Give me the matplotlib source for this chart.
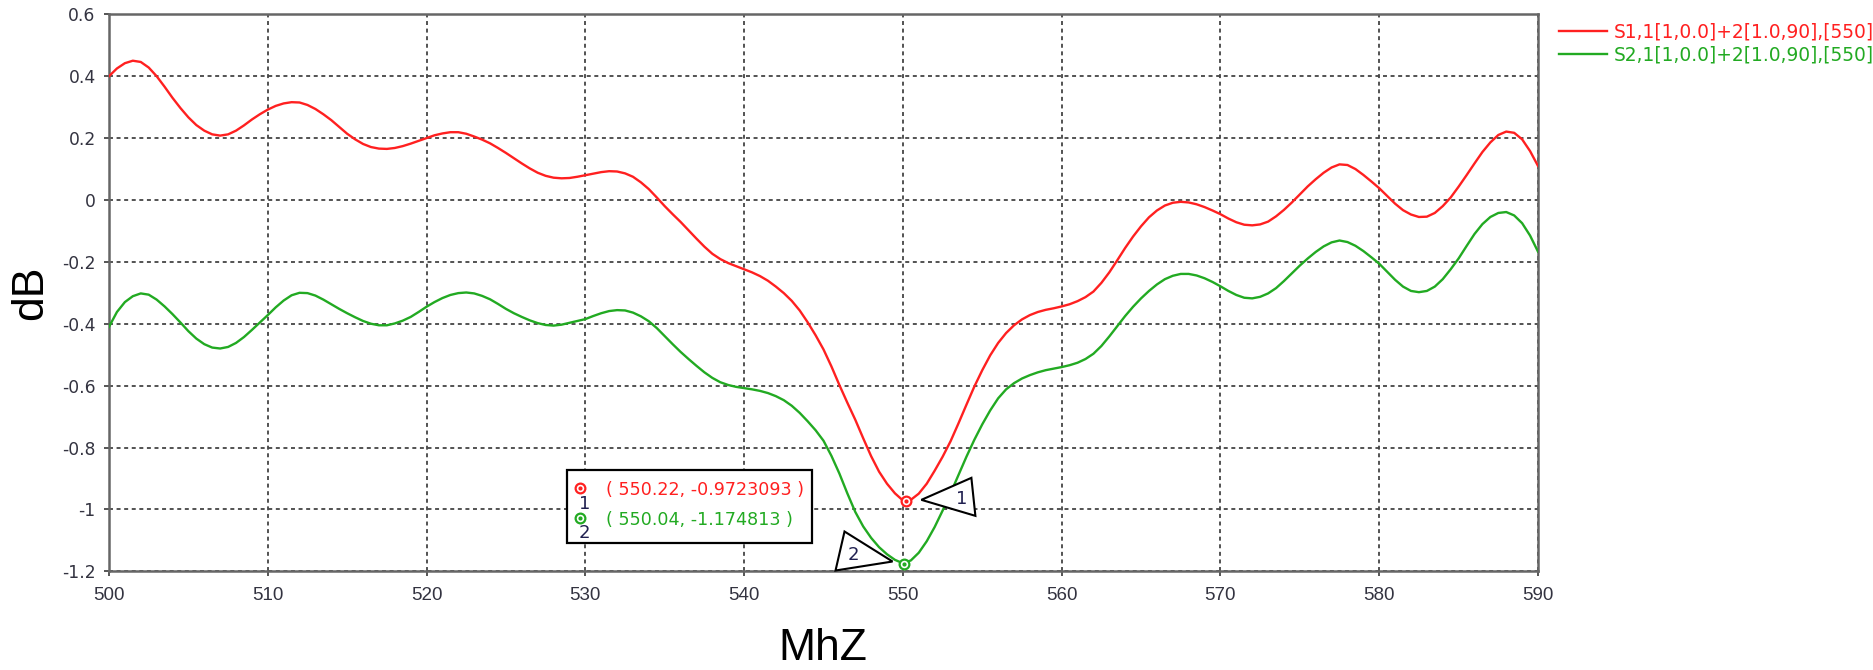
import numpy as np
import matplotlib
matplotlib.use("Agg")
import matplotlib.pyplot as plt
import matplotlib.transforms as mtransforms
from matplotlib.patches import Polygon, Rectangle

plt.rcParams['font.family'] = ['Liberation Sans', 'DejaVu Sans']
plt.rcParams['axes.unicode_minus'] = False

# frequency sweep, MHz (0.5 MHz step)
freq = np.arange(500, 590.5, 0.5)

# S1,1 response, dB
s11 = [0.400, 0.425, 0.442, 0.450, 0.446, 0.428, 0.400, 0.366, 0.330, 0.297,
       0.267, 0.242, 0.224, 0.212, 0.208, 0.212, 0.224, 0.241, 0.260, 0.277,
       0.292, 0.304, 0.312, 0.316, 0.315, 0.307, 0.294, 0.277, 0.258, 0.236,
       0.214, 0.196, 0.181, 0.171, 0.166, 0.165, 0.168, 0.174, 0.182, 0.191,
       0.200, 0.209, 0.215, 0.219, 0.219, 0.214, 0.205, 0.195, 0.183, 0.168,
       0.152, 0.135, 0.118, 0.102, 0.088, 0.078, 0.072, 0.070, 0.071, 0.075,
       0.080, 0.085, 0.090, 0.093, 0.092, 0.086, 0.075, 0.057, 0.035, 0.008,
       -0.020, -0.046, -0.071, -0.098, -0.125, -0.151, -0.174, -0.191, -0.204, -0.214,
       -0.224, -0.234, -0.246, -0.261, -0.280, -0.301, -0.326, -0.357, -0.395, -0.437,
       -0.483, -0.538, -0.598, -0.655, -0.710, -0.770, -0.828, -0.878, -0.917, -0.948,
       -0.971, -0.969, -0.949, -0.917, -0.875, -0.830, -0.780, -0.722, -0.662, -0.603,
       -0.550, -0.502, -0.462, -0.430, -0.405, -0.386, -0.372, -0.362, -0.355, -0.350,
       -0.344, -0.337, -0.327, -0.314, -0.296, -0.268, -0.234, -0.195, -0.155, -0.118,
       -0.085, -0.056, -0.034, -0.018, -0.009, -0.006, -0.008, -0.014, -0.023, -0.034,
       -0.046, -0.060, -0.072, -0.080, -0.082, -0.079, -0.070, -0.053, -0.032, -0.008,
       0.018, 0.044, 0.067, 0.088, 0.105, 0.115, 0.113, 0.100, 0.081, 0.060,
       0.038, 0.013, -0.012, -0.033, -0.047, -0.055, -0.054, -0.042, -0.020, 0.008,
       0.043, 0.080, 0.118, 0.155, 0.186, 0.210, 0.221, 0.217, 0.196, 0.158,
       0.110]

# S2,1 response, dB
s21 = [-0.410, -0.362, -0.330, -0.311, -0.302, -0.306, -0.322, -0.344, -0.369, -0.396,
       -0.424, -0.448, -0.466, -0.477, -0.480, -0.475, -0.462, -0.443, -0.420, -0.396,
       -0.372, -0.347, -0.325, -0.308, -0.300, -0.301, -0.309, -0.322, -0.337, -0.352,
       -0.366, -0.379, -0.391, -0.400, -0.405, -0.405, -0.399, -0.390, -0.378, -0.362,
       -0.345, -0.330, -0.317, -0.307, -0.301, -0.299, -0.302, -0.310, -0.321, -0.336,
       -0.352, -0.366, -0.378, -0.389, -0.398, -0.404, -0.406, -0.403, -0.397, -0.391,
       -0.385, -0.375, -0.366, -0.359, -0.356, -0.357, -0.364, -0.376, -0.392, -0.414,
       -0.440, -0.466, -0.491, -0.514, -0.536, -0.557, -0.575, -0.589, -0.598, -0.604,
       -0.608, -0.612, -0.617, -0.624, -0.634, -0.647, -0.665, -0.688, -0.715, -0.744,
       -0.778, -0.827, -0.884, -0.948, -1.008, -1.055, -1.092, -1.122, -1.145, -1.163,
       -1.174, -1.165, -1.140, -1.103, -1.057, -1.004, -0.948, -0.889, -0.830, -0.775,
       -0.725, -0.680, -0.641, -0.612, -0.592, -0.577, -0.566, -0.557, -0.550, -0.545,
       -0.540, -0.534, -0.526, -0.514, -0.497, -0.472, -0.441, -0.408, -0.375, -0.345,
       -0.318, -0.294, -0.273, -0.256, -0.245, -0.239, -0.239, -0.244, -0.253, -0.265,
       -0.279, -0.294, -0.307, -0.316, -0.318, -0.313, -0.302, -0.285, -0.262, -0.237,
       -0.212, -0.189, -0.168, -0.150, -0.137, -0.131, -0.136, -0.148, -0.165, -0.185,
       -0.206, -0.232, -0.258, -0.280, -0.294, -0.298, -0.294, -0.280, -0.256, -0.224,
       -0.189, -0.149, -0.110, -0.078, -0.055, -0.042, -0.039, -0.050, -0.075, -0.115,
       -0.167]

series_labels = ['S1,1[1,0.0]+2[1.0,90],[550]', 'S2,1[1,0.0]+2[1.0,90],[550]']
colors = ['#ff2020', '#22aa22']

# marker readouts
marker_ids = ['1', '2']
marker_x = [550.22, 550.04]
marker_y = [-0.9723093, -1.174813]

xticks = np.arange(500, 591, 10)
yticks = [0.6, 0.4, 0.2, 0, -0.2, -0.4, -0.6, -0.8, -1, -1.2]
ytick_labels = ['0.6', '0.4', '0.2', '0', '-0.2', '-0.4', '-0.6', '-0.8', '-1', '-1.2']

W, H = 1874, 670
fig = plt.figure(figsize=(W / 100, H / 100), dpi=100)
ax = fig.add_axes([109 / W, 1 - 571.3 / H, 1429 / W, 557 / H])

ax.plot(freq, s11, color=colors[0], lw=1.7, label=series_labels[0], zorder=3,
        solid_joinstyle='round')
ax.plot(freq, s21, color=colors[1], lw=1.7, label=series_labels[1], zorder=3,
        solid_joinstyle='round')

ax.set_xlim(500, 590)
ax.set_ylim(-1.2, 0.6)
ax.set_xticks(xticks)
ax.set_yticks(yticks)
ax.set_yticklabels(ytick_labels)
ax.grid(True, color='#444444', lw=1.3, linestyle=(0, (2.2, 2)))
ax.set_axisbelow(True)
for sp in ax.spines.values():
    sp.set_color('#666666')
    sp.set_linewidth(1.8)
ax.tick_params(axis='both', direction='out', length=3.6, width=1.4, color='#555555',
               labelcolor='#333340')
ax.tick_params(axis='x', pad=8, labelsize=13.5)
ax.tick_params(axis='y', pad=6, labelsize=12.3)
for lab in ax.get_yticklabels():
    lab.set_fontfamily('DejaVu Sans')

fig.text(30.6 / W, 0.563, 'dB', fontsize=32, rotation=90, ha='center', va='center')
fig.text(823 / W, 0.002, 'MhZ', fontsize=32, ha='center', va='bottom')

leg = ax.legend(loc='upper left', bbox_to_anchor=(1559 / W, 1 - 23 / H),
                bbox_transform=fig.transFigure, frameon=False,
                prop={'family': 'DejaVu Sans', 'size': 13.4},
                handlelength=2.58, handletextpad=0.35, labelspacing=0.2,
                borderpad=0, borderaxespad=0, labelcolor='linecolor')

# marker circles on the traces
for mx, my, c in zip(marker_x, marker_y, colors):
    ax.plot(mx, my, 'o', ms=7, mfc='white', mec=c, mew=1.6, zorder=5)
    ax.plot(mx, my, 'o', ms=2, color=c, zorder=6)

# pointer triangles, offsets in pixels from each marker (x right, y up)
tri_px = [[(15, 1), (65, 23), (69, -15)],
          [(-11, 2), (-59, 32), (-68, -7)]]
num_px = [(55, 2), (-50, 9)]
for mx, my, tri, npos, mid in zip(marker_x, marker_y, tri_px, num_px, marker_ids):
    tr = fig.dpi_scale_trans + mtransforms.ScaledTranslation(mx, my, ax.transData)
    verts = [(px / 100, py / 100) for px, py in tri]
    ax.add_patch(Polygon(verts, closed=True, transform=tr, fc='white', ec='black',
                         lw=1.5, zorder=4, clip_on=False))
    ax.text(npos[0] / 100, npos[1] / 100, mid, transform=tr, ha='center', va='center',
            fontsize=13, family='DejaVu Sans', color='#202050', zorder=5)

# readout box
ax.add_patch(Rectangle((0.3205, 0.0508), 0.1715, 0.1311, transform=ax.transAxes,
                       fc='white', ec='black', lw=1.6, zorder=6))
row_y = [0.1459, 0.0921]
num_y = [0.121, 0.0689]
for mx, my, c, ry, ny, mid in zip(marker_x, marker_y, colors, row_y, num_y, marker_ids):
    ax.plot(0.3296, ry + 0.004, 'o', ms=7, mfc='white', mec=c, mew=1.6,
            transform=ax.transAxes, zorder=7)
    ax.plot(0.3296, ry + 0.004, 'o', ms=2, color=c, transform=ax.transAxes, zorder=8)
    ax.text(0.333, ny, mid, transform=ax.transAxes, ha='center', va='center',
            fontsize=13, family='DejaVu Sans', color='#202050', zorder=8)
    ax.text(0.3481, ry, '( %.2f, %s )' % (mx, ('%.7f' % my).rstrip('0')),
            transform=ax.transAxes, ha='left', va='center', fontsize=12.6,
            family='DejaVu Sans', color=c, zorder=8)

fig.savefig('out.png', dpi=100)
